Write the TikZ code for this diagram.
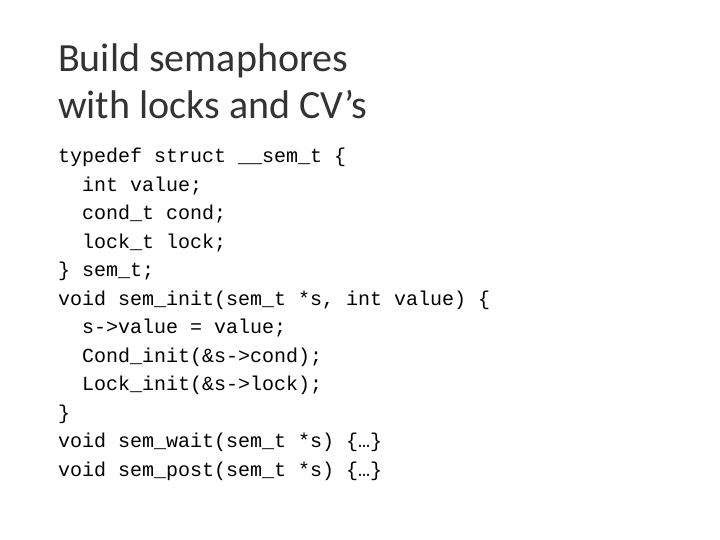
\documentclass[tikz,border=0pt]{standalone}
\usepackage{fontspec}
\setmainfont{Carlito}
\newfontfamily\codefont{Liberation Mono}
\begin{document}
\begin{tikzpicture}[x=1pt,y=1pt,
  ttl/.style={anchor=base west,inner sep=0pt,font=\fontsize{40}{40}\selectfont,text=black!80},
  code/.style={anchor=base west,inner sep=0pt,font=\codefont\fontsize{20}{20}\selectfont}]
\useasboundingbox (0,0) rectangle (720,540);
\node[ttl] (t1) at (58,540-72) {Build semaphores};
\node[ttl] (t2) at (58,540-119) {with locks and CV’s};
\foreach \i/\s in {0/{typedef struct \_\_sem\_t \{},
  1/{\ \ int value;},
  2/{\ \ cond\_t cond;},
  3/{\ \ lock\_t lock;},
  4/{\} sem\_t;},
  5/{void sem\_init(sem\_t *s, int value) \{},
  6/{\ \ s->value = value;},
  7/{\ \ Cond\_init(\&s->cond);},
  8/{\ \ Lock\_init(\&s->lock);},
  9/{\}},
  10/{void sem\_wait(sem\_t *s) \{…\}},
  11/{void sem\_post(sem\_t *s) \{…\}}}
  \node[code] (c\i) at (58,540-163-28.5*\i) {\s};
\end{tikzpicture}
\end{document}
